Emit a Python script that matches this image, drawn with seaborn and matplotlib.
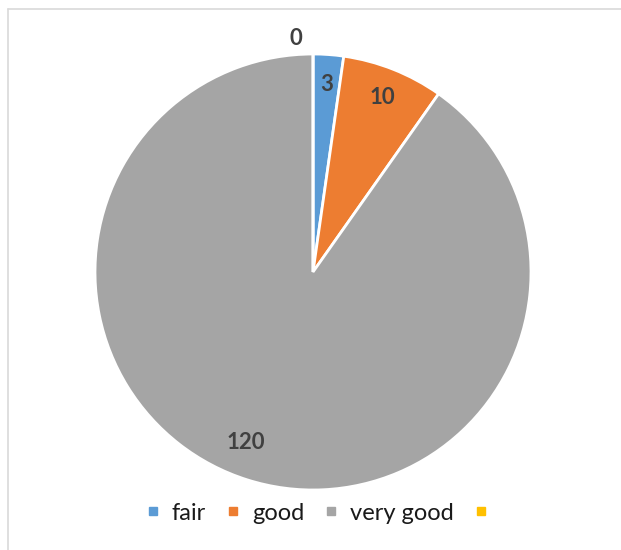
import matplotlib
matplotlib.use("Agg")
import matplotlib.pyplot as plt
import seaborn as sns
from matplotlib.lines import Line2D

categories = ["fair", "good", "very good", ""]
counts = [3, 10, 120, 0]
colors = ["#5B9BD5", "#ED7D31", "#A5A5A5", "#FFC000"]

sns.set_theme(style="white")
plt.rcParams["font.family"] = ["Lato", "DejaVu Sans"]

fig = plt.figure(figsize=(6.21, 5.5), dpi=100)
# pie centre ~ (313, 272) px, radius ~218 px
ax = fig.add_axes([(313 - 218) / 621, (550 - 272 - 218) / 550, 436 / 621, 436 / 550])

wedges, texts, autotexts = ax.pie(
    counts,
    colors=colors,
    startangle=90,
    counterclock=False,
    autopct=lambda p: "%d" % round(p * sum(counts) / 100),
    pctdistance=0.86,
    wedgeprops=dict(edgecolor="white", linewidth=2),
    textprops=dict(color="#404040", fontsize=16, fontweight="bold"),
)
ax.set_xlim(-1, 1)
ax.set_ylim(-1, 1)
ax.set_aspect("equal")

# zero slice label sits just outside the top of the pie
autotexts[3].set_position((-0.08, 1.07))
# Excel's best-fit for the big slice
autotexts[2].set_position((-0.31, -0.78))

handles = [Line2D([], [], marker="s", linestyle="none", markersize=6,
                  markerfacecolor=c, markeredgecolor=c) for c in colors]
fig.legend(handles, categories, loc="center", bbox_to_anchor=(0.52, 0.067),
           ncol=4, frameon=False, fontsize=17, handlelength=0.6,
           handletextpad=0.5, columnspacing=0.85, labelcolor="#1a1a1a")

# chart area frame (top and left edges visible)
fig.add_artist(Line2D([8 / 621, 1], [1 - 9 / 550, 1 - 9 / 550],
                      transform=fig.transFigure, color="#d9d9d9", lw=1.2))
fig.add_artist(Line2D([8 / 621, 8 / 621], [0, 1 - 9 / 550],
                      transform=fig.transFigure, color="#d9d9d9", lw=1.2))

fig.savefig("out.png", dpi=100, facecolor="white")
